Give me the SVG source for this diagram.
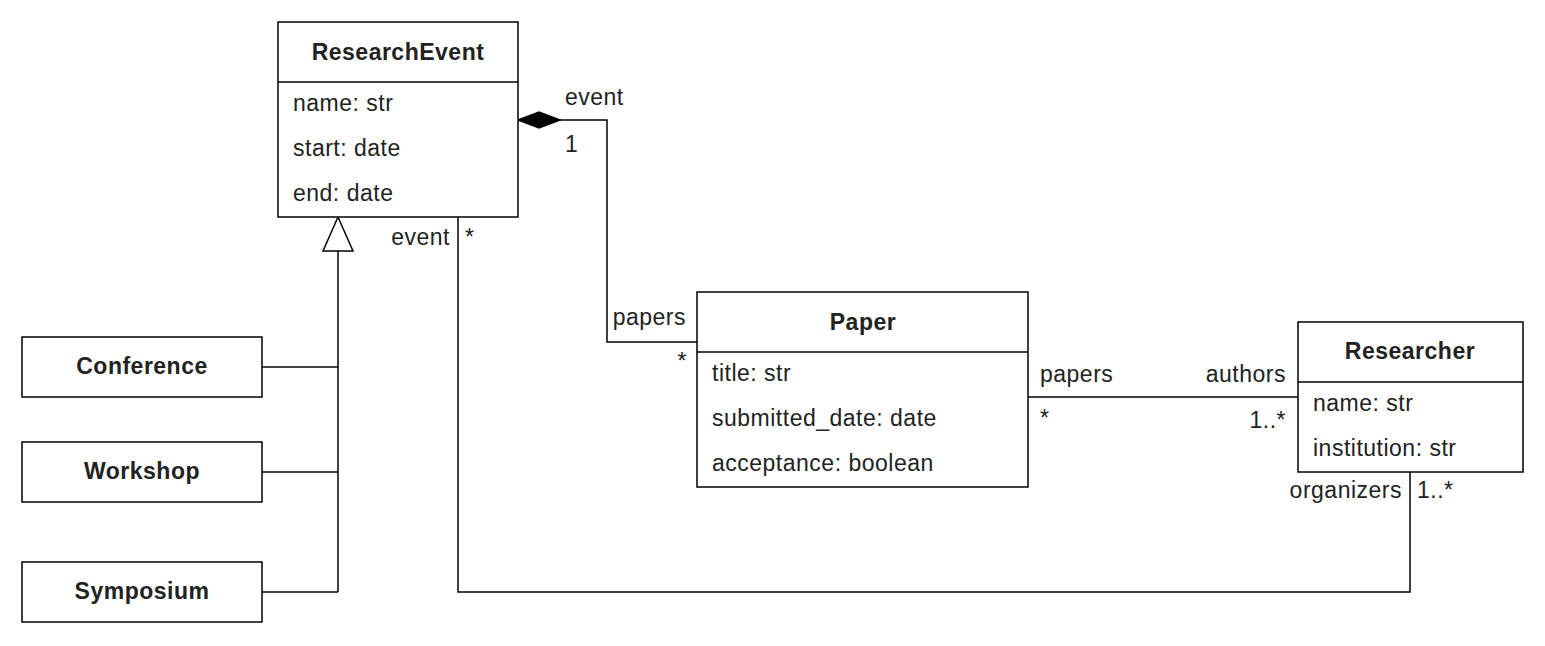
<svg xmlns="http://www.w3.org/2000/svg" width="1545" height="646" viewBox="0 0 1545 646">
<style>
.box{fill:#fff;stroke:#000;stroke-width:1.5}
.ln{fill:none;stroke:#000;stroke-width:1.5}
text{font-family:"Liberation Sans",Arial,sans-serif;font-size:23px;letter-spacing:0.5px;fill:#222}
.t{font-weight:bold;text-anchor:middle}
.e{text-anchor:end}
</style>
<rect width="1545" height="646" fill="#fff"/>
<g id="connectors">
<polyline class="ln" points="338,251 338,592"/>
<polyline class="ln" points="262,367 338,367"/>
<polyline class="ln" points="262,472 338,472"/>
<polyline class="ln" points="262,592 338,592"/>
<polygon points="338,217 323,251 353,251" fill="#fff" stroke="#000" stroke-width="1.5"/>
<polyline class="ln" points="560,120 607,120 607,342 697,342"/>
<polygon points="518,120 539,112 560,120 539,128" fill="#000" stroke="#000" stroke-width="1.5"/>
<polyline class="ln" points="458,217 458,592 1410,592 1410,472"/>
<polyline class="ln" points="1028,397 1298,397"/>
<text x="565" y="105">event</text>
<text x="565" y="152">1</text>
<text x="450" y="245" class="e">event</text>
<text x="465" y="245">*</text>
<text x="686" y="325" class="e">papers</text>
<text x="687" y="369" class="e">*</text>
<text x="1040" y="382">papers</text>
<text x="1040" y="426">*</text>
<text x="1286" y="382" class="e">authors</text>
<text x="1286" y="428" class="e">1..*</text>
<text x="1402" y="498" class="e">organizers</text>
<text x="1417" y="498">1..*</text>
</g>
<g id="ResearchEvent">
<rect class="box" x="278" y="22" width="240" height="195"/>
<line class="ln" x1="278" y1="82" x2="518" y2="82"/>
<text x="398" y="60" class="t">ResearchEvent</text>
<text x="293" y="111">name: str</text>
<text x="293" y="156">start: date</text>
<text x="293" y="201">end: date</text>
</g>
<g id="Paper">
<rect class="box" x="697" y="292" width="331" height="195"/>
<line class="ln" x1="697" y1="352" x2="1028" y2="352"/>
<text x="863" y="330" class="t">Paper</text>
<text x="712" y="381">title: str</text>
<text x="712" y="426">submitted_date: date</text>
<text x="712" y="471">acceptance: boolean</text>
</g>
<g id="Researcher">
<rect class="box" x="1298" y="322" width="225" height="150"/>
<line class="ln" x1="1298" y1="382" x2="1523" y2="382"/>
<text x="1410" y="359" class="t">Researcher</text>
<text x="1313" y="411">name: str</text>
<text x="1313" y="456">institution: str</text>
</g>
<g id="Conference">
<rect class="box" x="22" y="337" width="240" height="60"/>
<text x="142" y="374" class="t">Conference</text>
</g>
<g id="Workshop">
<rect class="box" x="22" y="442" width="240" height="60"/>
<text x="142" y="479" class="t">Workshop</text>
</g>
<g id="Symposium">
<rect class="box" x="22" y="562" width="240" height="60"/>
<text x="142" y="599" class="t">Symposium</text>
</g>
</svg>
